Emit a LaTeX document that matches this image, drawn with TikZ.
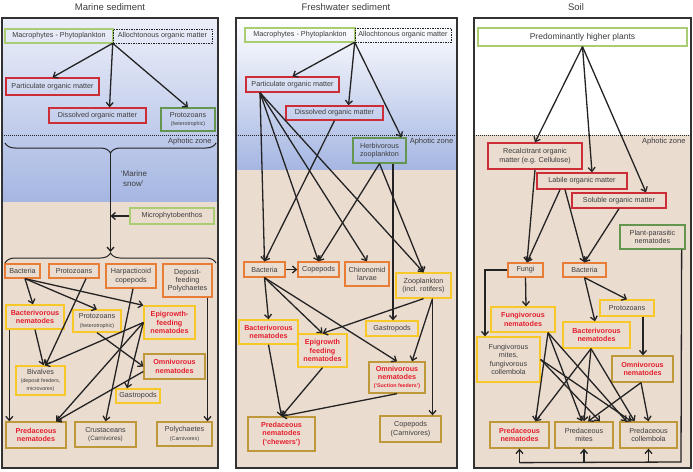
\documentclass[tikz,border=0pt]{standalone}
\usepackage{fontspec}
\setmainfont{Liberation Sans}
\usetikzlibrary{arrows.meta,decorations.pathreplacing}
\definecolor{txt}{RGB}{60,60,60}
\definecolor{ink}{RGB}{35,35,35}
\definecolor{lgreen}{RGB}{170,205,115}
\definecolor{dgreen}{RGB}{100,150,80}
\definecolor{omred}{RGB}{205,45,55}
\definecolor{orng}{RGB}{232,125,55}
\definecolor{ylw}{RGB}{248,200,40}
\definecolor{gold}{RGB}{192,152,60}
\definecolor{nemred}{RGB}{228,30,45}
\definecolor{beige}{RGB}{235,220,208}
\definecolor{deepblue}{RGB}{165,182,226}
\definecolor{paleblue}{RGB}{236,239,249}
\definecolor{frame}{RGB}{50,50,50}
\newcommand{\smalltxt}[1]{{\fontsize{5.3}{6.2}\selectfont #1}}
\begin{document}
\begin{tikzpicture}%
	[x={(1pt,0pt)},
	y={(0pt,-1pt)},
	box/.style={draw, line width=1.3pt, inner sep=0pt, align=center, text=txt, font=\fontsize{7.2}{8.3}\selectfont},
	wh/.style 2 args={minimum width=#1pt, minimum height=#2pt},
	plantbox/.style={box, draw=lgreen},
	herbbox/.style={box, draw=dgreen},
	allobox/.style={box, draw=ink, line width=0.6pt, dash pattern=on 1.5pt off 1pt},
	ombox/.style={box, draw=omred},
	basebox/.style={box, draw=orng},
	midbox/.style={box, draw=ylw},
	predbox/.style={box, draw=gold},
	nemtext/.style={text=nemred, font=\fontsize{7.2}{8.3}\selectfont\bfseries},
	link/.style={draw=ink, line width=1.3pt, -{Straight Barb[length=4pt,width=7pt]}},
	wire/.style={draw=ink, line width=1.3pt},
	aphotic/.style={draw=ink, line width=0.6pt, dash pattern=on 1pt off 1pt},
	zonelabel/.style={text=txt, font=\fontsize{7.5}{9}\selectfont},
	paneltitle/.style={text=txt, font=\fontsize{9.5}{11}\selectfont},
	panel/.style={draw=frame, line width=1.5pt},
	snowbrace/.style={draw=ink, line width=1pt, decorate, decoration={brace, amplitude=10pt}}]
\useasboundingbox (0,0) rectangle (693,471);
%%
%% Backgrounds of the three panels
%%
\shade[top color=paleblue, bottom color=deepblue] (2,18) rectangle (218,202);
\fill[beige] (2,202) rectangle (218,468);
\shade[top color=white, bottom color=deepblue] (236,18) rectangle (457,170);
\fill[beige] (236,170) rectangle (457,468);
\fill[white] (474,18) rectangle (691,135);
\fill[beige] (474,135) rectangle (691,468);
\draw[panel] (2,18) rectangle (218,468);
\draw[panel] (236,18) rectangle (457,468);
\draw[panel] (474,18) rectangle (691,468);
\draw[aphotic] (2,135) -- (218,135);
\draw[aphotic] (236,135) -- (457,135);
\draw[aphotic] (474,135) -- (691,135);
%%
\node[paneltitle] (mTitle) at (110,7) {Marine sediment};
\node[paneltitle] (fTitle) at (346,7) {Freshwater sediment};
\node[paneltitle] (sTitle) at (576,7) {Soil};
\node[zonelabel, anchor=east] (mZone) at (215,142) {Aphotic zone};
\node[zonelabel] (fZone) at (431.5,142) {Aphotic zone};
\node[zonelabel, anchor=east] (sZone) at (689,142) {Aphotic zone};
%%
%% Marine sediment
%%
\node[plantbox, wh={108}{14}] (mMacro) at (59,36) {Macrophytes - Phytoplankton};
\node[allobox, wh={99}{14}] (mAllo) at (162.5,36) {Allochtonous organic matter};
\node[ombox, wh={93}{17}] (mPom) at (52.5,86.5) {Particulate organic matter};
\node[ombox, wh={97}{15}] (mDom) at (97.5,115.5) {Dissolved organic matter};
\node[herbbox, wh={54}{23}] (mProtoA) at (188,119.5) {Protozoans\\\smalltxt{(heterotrophic)}};
\node[text=txt, font=\fontsize{8}{9.5}\selectfont, align=left] (mSnow) at (134,178.5) {‘Marine\\\ snow’};
\node[plantbox, wh={84}{16}] (mMicro) at (172,216) {Microphytobenthos};
\node[basebox, wh={35}{14}] (mBact) at (22.5,271) {Bacteria};
\node[basebox, wh={50}{14}] (mProtoB) at (74,271) {Protozoans};
\node[basebox, wh={50}{24}] (mHarp) at (131,276) {Harpacticoid\\copepods};
\node[basebox, wh={49}{33}] (mDepo) at (187.5,280.5) {Deposit-\\feeding\\Polychaetes};
\node[midbox, nemtext, wh={58}{24}] (mBnem) at (35,317) {Bacterivorous\\nematodes};
\node[midbox, wh={48}{22}] (mProtoC) at (97,321) {Protozoans\\\smalltxt{(heterotrophic)}};
\node[midbox, nemtext, wh={51}{33}] (mEnem) at (169.5,322.5) {Epigrowth-\\feeding\\nematodes};
\node[predbox, nemtext, wh={61}{25}] (mOnem) at (174.5,366.5) {Omnivorous\\nematodes};
\node[midbox, wh={49}{29}] (mBiv) at (40.5,380.5) {Bivalves\\\smalltxt{(deposit feeders,}\\\smalltxt{microvores)}};
\node[midbox, wh={44}{14}] (mGast) at (138,396) {Gastropods};
\node[predbox, nemtext, wh={60}{26}] (mPnem) at (36,435) {Predaceous\\nematodes};
\node[predbox, wh={61}{25}] (mCrus) at (105.5,434.5) {Crustaceans\\{\fontsize{6.3}{7.5}\selectfont (Carnivores)}};
\node[predbox, wh={55}{24}] (mPoly) at (184.5,434) {Polychaetes\\\smalltxt{(Carnivores)}};
%%
\coordinate (mSnowTop) at (110.5,153);
\coordinate (mSnowEnd) at (110.5,252);
\coordinate (mJoin) at (110.5,216);
\draw[snowbrace] (216,143) -- (5,143);
\draw[snowbrace] (5,263) -- (216,263);
\draw[link] (mSnowTop) -- (mSnowEnd);
\draw[link] (mMicro) -- (mJoin);
\draw[link] (mAllo.south west) -- (mPom.north);
\draw[link] (mAllo.south west) -- ([xshift=12pt]mDom.north);
\draw[link] (mAllo.south west) -- (mProtoA.north);
\draw[link] ([xshift=2.5pt]mBact.south) -- ([xshift=-2pt]mBnem.north);
\draw[link] ([xshift=2.5pt]mBact.south) -- (mProtoC.north);
\draw[link] ([xshift=2.5pt]mBact.south) -- (mEnem.north west);
\draw[link] ([xshift=12pt]mProtoB.south) -- ([xshift=5pt]mBiv.north);
\draw[link] (mBnem.south) -- ([xshift=3pt]mBiv.north);
\draw[link] ([xshift=4pt]mBnem.south west) -- ([xshift=4pt]mPnem.north west);
\draw[link] ([xshift=2pt]mHarp.south) -- (mCrus.north);
\draw[link] (mEnem.west) -- ([xshift=4pt]mBiv.north);
\draw[link] (mEnem.west) -- ([xshift=20pt]mPnem.north);
\draw[link] (mEnem.west) -- ([xshift=-11pt]mGast.north);
\draw[link] (mProtoC.south) -- (mOnem.west);
\draw[link] ([yshift=-5pt]mOnem.west) -- ([xshift=20pt]mPnem.north);
\draw[link] ([xshift=20pt]mDepo.south) -- ([xshift=23pt]mPoly.north);
%%
%% Freshwater sediment
%%
\node[plantbox, wh={110}{14}] (fMacro) at (300,35) {Macrophytes - Phytoplankton};
\node[allobox, wh={96}{14}] (fAllo) at (403,35) {Allochtonous organic matter};
\node[ombox, wh={93}{15}] (fPom) at (292.5,84.5) {Particulate organic matter};
\node[ombox, wh={97}{14}] (fDom) at (334.5,113) {Dissolved organic matter};
\node[herbbox, wh={53}{25}] (fHerb) at (379.5,150.5) {Herbivorous\\zooplankton};
\node[basebox, wh={41}{15}] (fBact) at (264.5,269.5) {Bacteria};
\node[basebox, wh={41}{15}] (fCopeA) at (318.5,269.5) {Copepods};
\node[basebox, wh={44}{24}] (fChir) at (367,274) {Chironomid\\larvae};
\node[midbox, wh={55}{25}] (fZoo) at (423.5,285.5) {Zooplankton\\(incl. rotifers)};
\node[midbox, nemtext, wh={59}{24}] (fBnem) at (268.5,332) {Bacterivorous\\nematodes};
\node[midbox, nemtext, wh={49}{33}] (fEnem) at (322.5,350.5) {Epigrowth\\feeding\\nematodes};
\node[midbox, wh={52}{15}] (fGast) at (392,328.5) {Gastropods};
\node[predbox, nemtext, wh={56}{31}] (fOnem) at (397,377.5) {Omnivorous\\nematodes\\\smalltxt{(‘Suction feeders’)}};
\node[predbox, nemtext, wh={67}{34}] (fPnem) at (281.5,434) {Predaceous\\nematodes\\(‘chewers’)};
\node[predbox, wh={61}{26}] (fCopeB) at (410.5,429) {Copepods\\(Carnivores)};
%%
\draw[link] (fAllo.south west) -- (fPom.north);
\draw[link] (fAllo.south west) -- ([xshift=14pt]fDom.north);
\draw[link] (fAllo.south west) -- ([xshift=22pt]fHerb.north);
\draw[link] ([xshift=-32.5pt]fPom.south) -- (fBact.north);
\draw[link] ([xshift=-32.5pt]fPom.south) -- (fCopeA.north);
\draw[link] ([xshift=-32.5pt]fPom.south) -- (fChir.north);
\draw[link] ([xshift=-32.5pt]fPom.south) -- (fZoo.north);
\draw[link] (fDom.south) -- (fBact.north);
\draw[link] (fHerb.south) -- (fCopeA.north);
\draw[link] (fHerb.south) -- (fZoo.north);
\draw[link] ([xshift=13.5pt]fHerb.south) -- ([xshift=1pt]fGast.north);
\draw[link] (fBact.east) -- (fCopeA.west);
\draw[link] (fBact.south) -- (fBnem.north);
\draw[link] (fBact.south) -- (fEnem.north);
\draw[link] (fBact.south) -- (fOnem.north);
\draw[link] (fZoo.south) -- (fEnem.north);
\draw[link] ([xshift=9pt]fZoo.south) -- ([xshift=15pt]fOnem.north);
\draw[link] ([xshift=9pt]fZoo.south) -- ([xshift=22pt]fCopeB.north);
\draw[link] (fBnem.south) -- (fPnem.north);
\draw[link] (fEnem.south) -- (fPnem.north);
\draw[link] (fOnem.south) -- (fPnem.north);
%%
%% Soil
%%
\node[plantbox, wh={209}{18}, font=\fontsize{8.5}{10}\selectfont] (sPlant) at (582.5,37) {Predominantly higher plants};
\node[ombox, wh={94}{26}] (sRec) at (535,156) {Recalcitrant organic\\matter (e.g. Cellulose)};
\node[ombox, wh={90}{16}] (sLab) at (582,181) {Labile organic matter};
\node[ombox, wh={94}{15}] (sSol) at (619,200.5) {Soluble organic matter};
\node[herbbox, wh={65}{24}] (sPpn) at (652.5,237) {Plant-parasitic\\nematodes};
\node[basebox, wh={35}{14}] (sFungi) at (525.5,270) {Fungi};
\node[basebox, wh={43}{14}] (sBact) at (584.5,270) {Bacteria};
\node[midbox, nemtext, wh={64}{25}] (sFnem) at (523,319.5) {Fungivorous\\nematodes};
\node[midbox, wh={54}{16}] (sProto) at (627,308) {Protozoans};
\node[midbox, nemtext, wh={67}{26}] (sBnem) at (596.5,335) {Bacterivorous\\nematodes};
\node[predbox, nemtext, wh={61}{26}] (sOnem) at (642.5,369) {Omnivorous\\nematodes};
\node[midbox, wh={63}{45}] (sFmite) at (508.5,359.5) {Fungivorous\\mites,\\fungivorous\\collembola};
\node[predbox, nemtext, wh={59}{26}] (sPnem) at (519.5,435) {Predaceous\\nematodes};
\node[predbox, wh={58}{26}] (sPmite) at (584,435) {Predaceous\\mites};
\node[predbox, wh={57}{26}] (sPcoll) at (648.5,435) {Predaceous\\collembola};
%%
\coordinate (sLoop) at (681,462);
\draw[link] (sPlant.south) -- (sRec.north);
\draw[link] (sPlant.south) -- ([xshift=10pt]sLab.north);
\draw[link] (sPlant.south) -- ([xshift=27pt]sSol.north);
\draw[link] (sRec.south) -- ([xshift=1.5pt]sFungi.north);
\draw[link] ([xshift=-22pt]sLab.south) -- ([xshift=1.5pt]sFungi.north);
\draw[link] ([xshift=-17pt]sLab.south) -- (sBact.north);
\draw[link] (sSol.south) -- (sBact.north);
\draw[link] (sFungi.west) -| ([xshift=-23.5pt]sFmite.north);
\draw[link] (sFungi.south) -- ([xshift=3pt]sFnem.north);
\draw[link] (sBact.south) -- (sProto.north);
\draw[link] (sBact.south) -- ([xshift=-1.5pt]sBnem.north);
\draw[link] ([xshift=16pt]sProto.south) -- ([xshift=0.5pt]sOnem.north);
\draw[link] ([xshift=25pt]sFnem.south) -- ([xshift=16pt]sPnem.north);
\draw[link] ([xshift=25pt]sFnem.south) -- ([xshift=-2pt]sPmite.north);
\draw[link] ([xshift=25pt]sFnem.south) -- ([xshift=-22pt]sPcoll.north);
\draw[link] ([xshift=-5.5pt]sBnem.south) -- ([xshift=16pt]sPnem.north);
\draw[link] ([xshift=-5.5pt]sBnem.south) -- (sPmite.north);
\draw[link] ([xshift=-5.5pt]sBnem.south) -- ([xshift=-14pt]sPcoll.north);
\draw[link] ([xshift=-1.5pt]sOnem.south) -- ([xshift=4pt]sPmite.north);
\draw[link] ([xshift=-1.5pt]sOnem.south) -- (sPcoll.north);
\draw[link] (sFmite.east) -- ([xshift=16pt]sPmite.north);
\draw[link] (sFmite.east) -- ([xshift=-17pt]sPcoll.north);
\draw[wire] ([xshift=-4pt]sPpn.south east) -- (sLoop) -- ([yshift=-14pt]sPnem.south);
\draw[link] ([yshift=-14pt]sPnem.south) -- (sPnem.south);
\draw[link] ([yshift=-14pt]sPmite.south) -- (sPmite.south);
\draw[link] ([yshift=-14pt]sPcoll.south) -- (sPcoll.south);
%%
\end{tikzpicture}
\end{document}
